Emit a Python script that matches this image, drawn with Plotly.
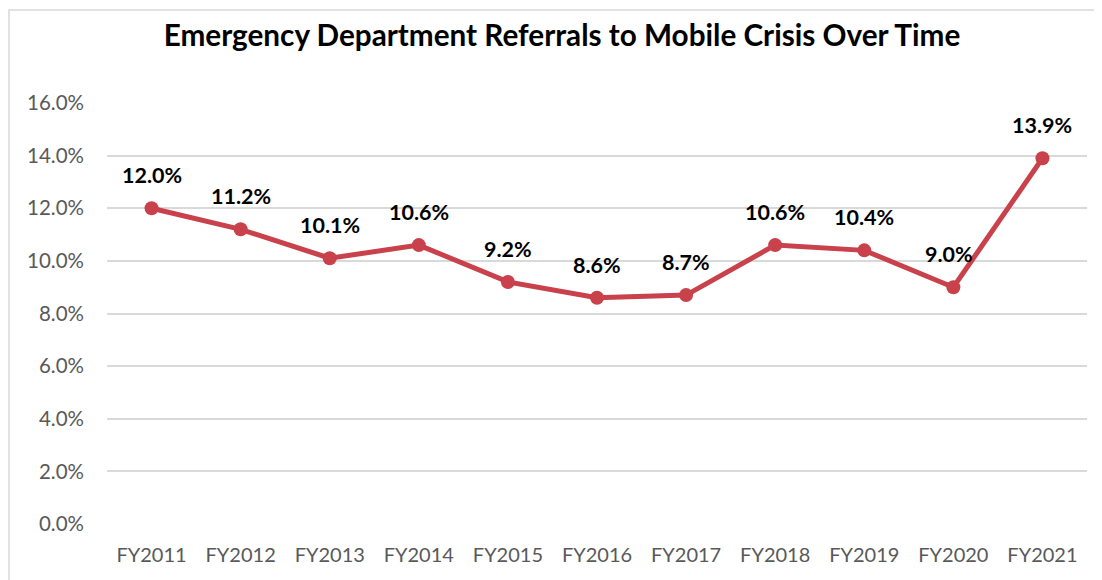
import plotly.graph_objects as go

categories = ["FY2011", "FY2012", "FY2013", "FY2014", "FY2015", "FY2016",
              "FY2017", "FY2018", "FY2019", "FY2020", "FY2021"]
values = [12.0, 11.2, 10.1, 10.6, 9.2, 8.6, 8.7, 10.6, 10.4, 9.0, 13.9]
tick_vals = [0, 2, 4, 6, 8, 10, 12, 14, 16]
tick_text = [f"{v:.1f}%" for v in tick_vals]

LINE = "#C8414B"
FONT = "Lato"
OFF = 8  # page body margin offset

W, H = 1102, 580
L, R, T, B = 107 - OFF, 1087 - OFF, 103 - OFF, 524 - OFF
PW, PH = R - L, B - T

fig = go.Figure()
fig.add_trace(go.Scatter(
    x=categories, y=values, mode="lines+markers",
    line=dict(color=LINE, width=5),
    marker=dict(color=LINE, size=14),
    hoverinfo="skip", showlegend=False,
))

for i, (c, v) in enumerate(zip(categories, values)):
    xs = -4 if c == "FY2020" else 0
    fig.add_annotation(x=c, y=v, text=f"<b>{v:.1f}%</b>", showarrow=False,
                       yshift=33, xshift=xs,
                       font=dict(family=FONT, size=21.5, color="#000000"))

fig.update_layout(
    width=W, height=H,
    margin=dict(l=L, r=W - R, t=T, b=H - B),
    paper_bgcolor="white", plot_bgcolor="white",
    title=dict(text="<b>Emergency Department Referrals to Mobile Crisis Over Time</b>",
               x=(562 - OFF) / W, xanchor="center", xref="container",
               y=1 - (36 - OFF) / H, yanchor="middle", yref="container",
               font=dict(family=FONT, size=29.7, color="#000000")),
    xaxis=dict(type="category", range=[-0.5, len(categories) - 0.5],
               showgrid=False, showline=False, zeroline=False,
               ticks="", tickfont=dict(family=FONT, size=20, color="#595959"),
               ticklabelstandoff=17, fixedrange=True),
    yaxis=dict(range=[0, 16], tickvals=tick_vals, ticktext=tick_text,
               showgrid=True, gridcolor="#D9D9D9", gridwidth=1.5,
               zeroline=False, showline=False, ticks="",
               tickfont=dict(family=FONT, size=20.5, color="#595959"),
               ticklabelstandoff=22, fixedrange=True),
    shapes=[dict(type="rect", xref="paper", yref="paper",
                 x0=(1 - L) / PW, x1=(1120 - OFF - L) / PW,
                 y0=(B - 600) / PH, y1=(B - 2) / PH,
                 line=dict(color="#D9D9D9", width=1.5), layer="below")],
)

fig.write_html("out.html")
